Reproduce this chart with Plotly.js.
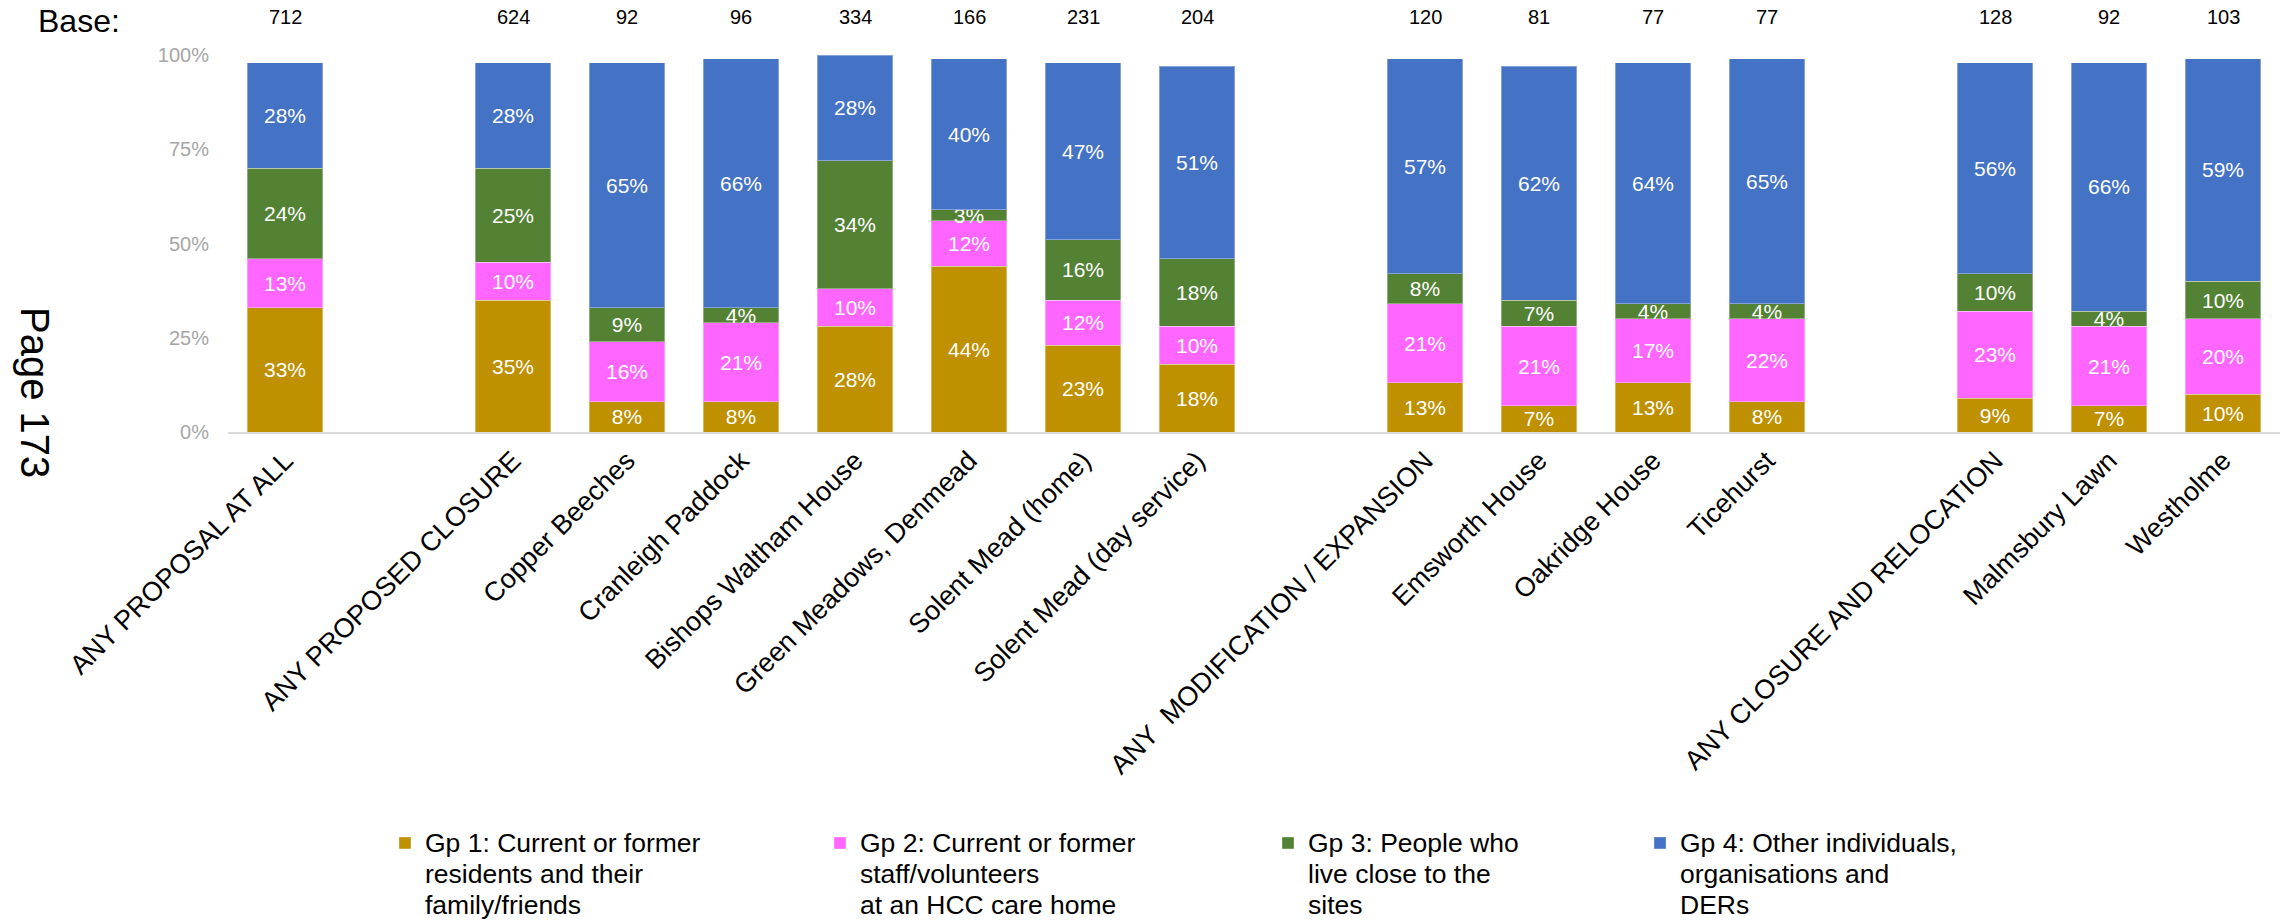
<!DOCTYPE html>
<html>
<head>
<meta charset="utf-8">
<script src="https://cdn.plot.ly/plotly-3.0.1.min.js"></script>
<style>html,body{margin:0;padding:0;background:#fff;}#chart{width:2282px;height:921px;}</style>
</head>
<body>
<div id="chart"></div>
<script>
// Categories (non-breaking-space entries are the empty gap slots)
const categories = [
  "ANY PROPOSAL AT ALL", "\u00a0",
  "ANY PROPOSED CLOSURE", "Copper Beeches", "Cranleigh Paddock", "Bishops Waltham House",
  "Green Meadows, Denmead", "Solent Mead (home)", "Solent Mead (day service)", "\u00a0\u00a0",
  "ANY\u00a0 MODIFICATION / EXPANSION", "Emsworth House", "Oakridge House", "Ticehurst", "\u00a0\u00a0\u00a0",
  "ANY CLOSURE AND RELOCATION", "Malmsbury Lawn", "Westholme"
];
const baseCounts = [712, null, 624, 92, 96, 334, 166, 231, 204, null, 120, 81, 77, 77, null, 128, 92, 103];
const gp1 = [33, null, 35, 8, 8, 28, 44, 23, 18, null, 13, 7, 13, 8, null, 9, 7, 10];
const gp2 = [13, null, 10, 16, 21, 10, 12, 12, 10, null, 21, 21, 17, 22, null, 23, 21, 20];
const gp3 = [24, null, 25, 9, 4, 34, 3, 16, 18, null, 8, 7, 4, 4, null, 10, 4, 10];
const gp4 = [28, null, 28, 65, 66, 28, 40, 47, 51, null, 57, 62, 64, 65, null, 56, 66, 59];
const seriesNameLines = [
  ["Gp 1: Current or former", "residents and their", "family/friends"],
  ["Gp 2: Current or former", "staff/volunteers", "at an HCC care home"],
  ["Gp 3: People who", "live close to the", "sites"],
  ["Gp 4: Other individuals,", "organisations and", "DERs"]
];
const seriesColors = ["#BF9000", "#FF66FF", "#548235", "#4472C4"];
const yTicks = [0, 25, 50, 75, 100];

const FONT = "Arial, 'Liberation Sans', sans-serif";
const seriesData = [gp1, gp2, gp3, gp4];
const legendIds = ["legend", "legend2", "legend3", "legend4"];
const legendX = [385, 820, 1268, 1640];

const traces = seriesData.map((vals, i) => ({
  type: "bar",
  name: seriesNameLines[i].map(s => '<span style="font-size:26.5px">' + s + '</span>').join("<br>"),
  x: categories,
  y: vals,
  text: vals.map(v => (v === null ? "" : v + "%")),
  marker: {color: seriesColors[i], line: {color: "rgba(255,255,255,0.35)", width: 1}},
  textposition: "inside",
  insidetextanchor: "middle",
  textangle: 0,
  constraintext: "none",
  textfont: {family: FONT, size: 21, color: "#FFFFFF"},
  hoverinfo: "skip",
  legend: legendIds[i],
  showlegend: true
}));

const annotations = [];
categories.forEach((c, i) => {
  if (baseCounts[i] !== null) {
    annotations.push({
      xref: "x", yref: "paper", x: c, y: 1.101, yanchor: "middle", xanchor: "center",
      text: String(baseCounts[i]), showarrow: false,
      font: {family: FONT, size: 20, color: "#000000"}
    });
  }
});
annotations.push({
  xref: "paper", yref: "paper", x: (36 - 228) / 2052, y: 1.089, xanchor: "left", yanchor: "middle",
  text: "Base:", showarrow: false, font: {family: FONT, size: 32, color: "#000000"}
});
annotations.push({
  xref: "paper", yref: "paper", x: (35 - 228) / 2052, y: (432 - 392) / 377, xanchor: "center", yanchor: "middle",
  text: "Page 173", textangle: 90, showarrow: false, font: {family: FONT, size: 40, color: "#000000"}
});

const layout = {
  width: 2282, height: 921,
  margin: {l: 228, r: 2, t: 55, b: 489, pad: 0, autoexpand: false},
  paper_bgcolor: "#FFFFFF", plot_bgcolor: "#FFFFFF",
  barmode: "stack",
  bargap: 0.342,
  font: {family: FONT, color: "#000000"},
  xaxis: {
    type: "category",
    categoryorder: "array", categoryarray: categories,
    showline: true, linecolor: "#D9D9D9", linewidth: 2,
    showgrid: false, zeroline: false, ticks: "",
    tickangle: -45,
    tickfont: {family: FONT, size: 27, color: "#000000"},
    automargin: false
  },
  yaxis: {
    range: [0, 100], tickvals: yTicks, ticktext: yTicks.map(v => v + "%"),
    showgrid: false, zeroline: false, showline: false, ticks: "",
    ticklabelstandoff: 18,
    tickfont: {family: FONT, size: 20, color: "#A6A6A6"},
    automargin: false
  },
  annotations: annotations
};
legendIds.forEach((id, i) => {
  layout[id] = {
    xref: "container", yref: "container",
    x: legendX[i] / 2282, y: 1 - 821 / 921,
    xanchor: "left", yanchor: "top",
    orientation: "v", valign: "top",
    bgcolor: "rgba(0,0,0,0)", borderwidth: 0,
    font: {family: FONT, size: 23.8, color: "#000000"}
  };
});

Plotly.newPlot("chart", traces, layout, {displayModeBar: false, staticPlot: true});
</script>
</body>
</html>
